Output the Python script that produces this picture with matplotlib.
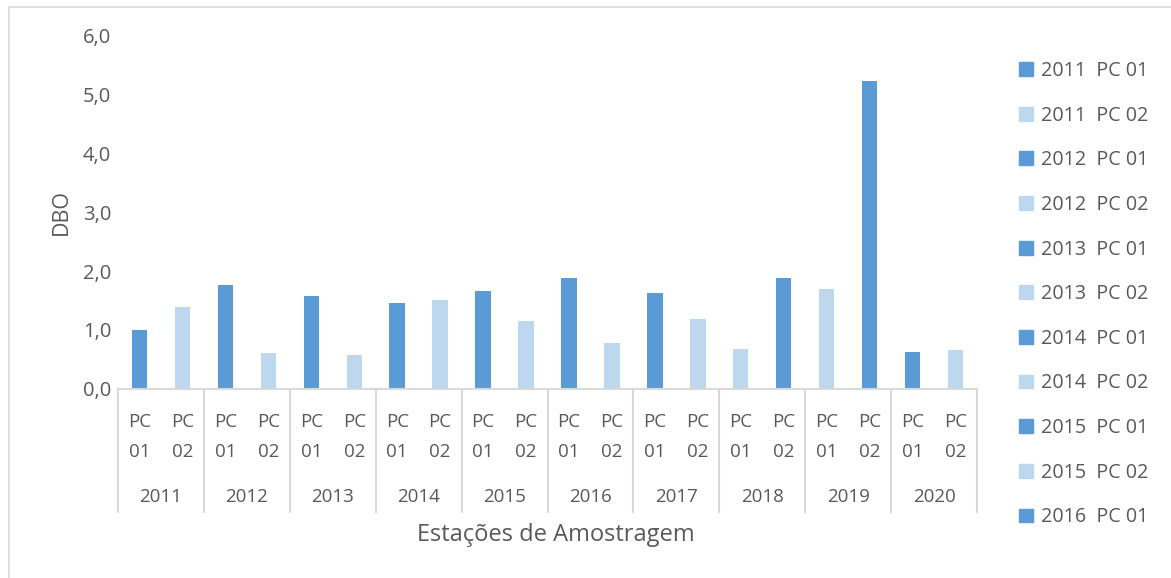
import matplotlib.pyplot as plt
from matplotlib.patches import Patch, Rectangle
from matplotlib.lines import Line2D
import matplotlib.transforms as mtransforms

plt.rcParams['font.family'] = ['Open Sans', 'DejaVu Sans']

years = ['2011', '2012', '2013', '2014', '2015', '2016', '2017', '2018', '2019', '2020']
stations = ['PC 01', 'PC 02']
dbo = [1.00, 1.39, 1.77, 0.61, 1.58, 0.58, 1.45, 1.51, 1.66, 1.15,
       1.88, 0.78, 1.63, 1.19, 0.68, 1.88, 1.69, 5.22, 0.63, 0.66]
dark = '#5B9BD5'
light = '#BDD7EE'
bar_colors = [dark, light, dark, light, dark, light, dark, light, dark, light,
              dark, light, dark, light, light, dark, light, dark, dark, light]
n_legend = 11

grey = '#595959'
axis_grey = '#D9D9D9'

fig = plt.figure(figsize=(11.71, 5.78), dpi=100)
ax = fig.add_axes([0.1008, 0.327, 0.7335, 0.6124])

# outer chart border
fig.patches.append(Rectangle((9 / 1171, -0.1), 1.2, 1.1 - 7 / 578, transform=fig.transFigure,
                             fill=False, edgecolor=axis_grey, lw=1.2))

x = range(len(dbo))
ax.bar(x, dbo, width=0.36, color=bar_colors, zorder=2)
ax.set_xlim(-0.5, len(dbo) - 0.5)
ax.set_ylim(0, 6)
ax.set_yticks([0, 1, 2, 3, 4, 5, 6])
ax.set_yticklabels([f'{v:.1f}'.replace('.', ',') for v in range(7)])
ax.tick_params(axis='y', length=0, labelsize=14.5, colors=grey, pad=5)
ax.set_xticks([])
for s in ['top', 'right', 'left']:
    ax.spines[s].set_visible(False)
ax.spines['bottom'].set_color(axis_grey)
ax.spines['bottom'].set_linewidth(1.5)

ax.set_ylabel('DBO', fontsize=15.5, color=grey, labelpad=8)

# multi-level category axis
px = mtransforms.blended_transform_factory(ax.transData, fig.transFigure)
lab_y1 = 1 - 422 / 578
lab_y2 = 1 - 452 / 578
year_y = 1 - 497 / 578
sep_bottom = 1 - 512 / 578
for i in range(len(dbo)):
    st = stations[i % 2].split()
    ax.text(i, lab_y1, st[0], transform=px, ha='center', va='center', fontsize=13.5, color=grey)
    ax.text(i, lab_y2, st[1], transform=px, ha='center', va='center', fontsize=13.5, color=grey)
for j, yr in enumerate(years):
    ax.text(2 * j + 0.5, year_y, yr, transform=px, ha='center', va='center', fontsize=13.5, color=grey)
for k in range(len(years) + 1):
    xs = 2 * k - 0.5
    ax.add_line(Line2D([xs, xs], [1 - 389 / 578, sep_bottom], transform=px,
                       color=axis_grey, lw=1.5, clip_on=False))

fig.text(556 / 1171, 1 - 535 / 578, 'Estações de Amostragem', ha='center', va='center',
         fontsize=17, color=grey)

# legend
handles = []
for i in range(n_legend):
    handles.append(Patch(color=bar_colors[i], label=f'{years[i // 2]}  {stations[i % 2]}'))
leg = fig.legend(handles=handles, loc='upper left', bbox_to_anchor=(1011 / 1171, 1 - 53 / 578),
                 frameon=False, fontsize=14.2, labelspacing=1.25, handlelength=0.7,
                 handleheight=0.7, handletextpad=0.4, borderaxespad=0)
for t in leg.get_texts():
    t.set_color(grey)

fig.savefig('out.png', dpi=100)
